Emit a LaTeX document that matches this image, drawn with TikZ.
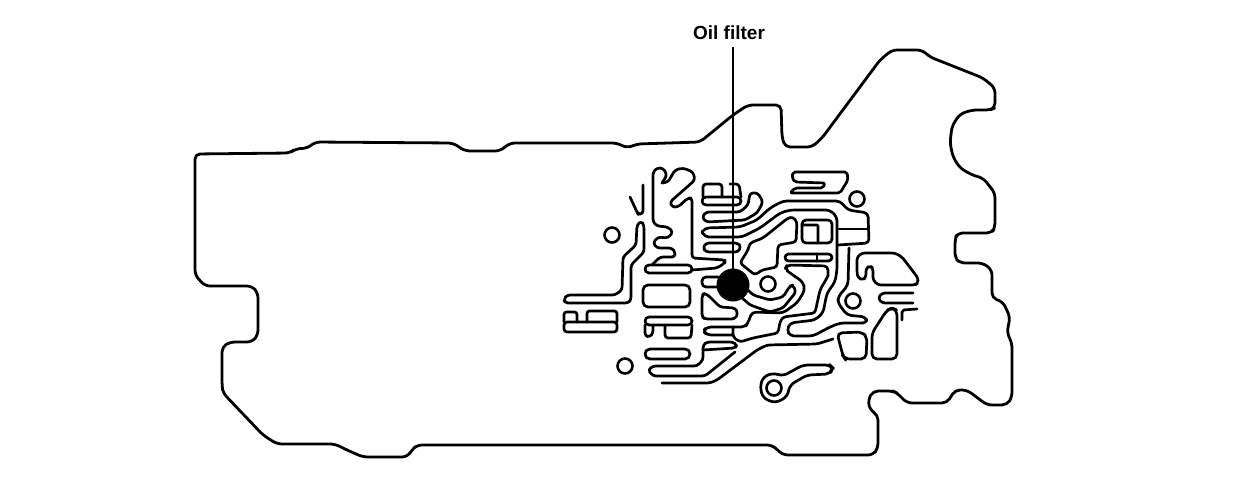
\documentclass[tikz,border=0pt]{standalone}
\usepackage{fontspec}
\setmainfont{Liberation Sans}
\tikzset{
 outl/.style={draw=black,line width=2.8pt,rounded corners=5pt,line join=round},
 chan/.style={draw=black,line width=2.7pt,rounded corners=3pt,line join=round,line cap=round},
 hole/.style={draw=black,line width=2.6pt,circle,minimum size=15pt,inner sep=0pt},
 filterdot/.style={fill=black,circle,minimum size=33pt,inner sep=0pt},
 lbl/.style={font=\bfseries\fontsize{19}{19}\selectfont,inner sep=0pt},
 leader/.style={draw=black,line width=1.5pt}
}
\begin{document}
\begin{tikzpicture}[x=1pt,y=-1pt]
\useasboundingbox (0,0) rectangle (1248,482);
% outline
\draw[outl] (195,154) -- (290,153) -- (295,149) -- (308,148) -- (315,142) -- (453,143) -- (465,151) -- (500,151) -- (510,143) -- (617,143) -- (627,148) -- (637,144) -- (700,142) -- (733,115) -- (748,105) -- (781,105) -- (782,137) -- (785,147) -- (812,147) -- (822,138) -- (880,60) -- (892,50) -- (922,50) -- (930,57) -- (983,78) -- (995,88) -- (995,108) -- (990,110) -- (972,110) -- (960,114) -- (952,126) -- (950,143) -- (953,157) -- (960,168) -- (972,175) -- (983,178) -- (995,193) -- (995,227) -- (992,233) -- (957,233) -- (955,240) -- (955,258) -- (960,263) -- (983,263) -- (992,270) -- (992,298) -- (1003,302) -- (1010,317) -- (1007,333) -- (1012,343) -- (1012,397) -- (1007,405) -- (987,405) -- (967,390) -- (955,390) -- (947,403) -- (907,403) -- (897,393) -- (893,391) -- (873,391) -- (868,400) -- (870,410) -- (878,415) -- (878,448) -- (873,455) -- (783,455) -- (772,445) -- (417,445) -- (412,450) -- (407,457) -- (363,457) -- (347,450) -- (335,444) -- (277,444) -- (263,435) -- (223,393) -- (222,385) -- (222,347) -- (230,342) -- (252,342) -- (258,335) -- (258,293) -- (252,286) -- (205,286) -- (195,275) -- cycle;
% left group
\draw[chan] (630,197) -- (637,212) -- (638,214) -- (643,214) -- (643,185);
\draw[chan] (641,221) -- (637,225) -- (636,245) -- (623,257) -- (622,290) -- (615,295) -- (567,295) -- (564,299) -- (565,303) -- (628,303) -- (631,300) -- (631,265) -- (644,252) -- (644,225) -- cycle;
\draw[chan] (662,183) -- (667,175) -- (663,168) -- (657,168) -- (653,172) -- (653,222) -- (657,226) -- (668,227) -- (673,232) -- (668,238) -- (658,237) -- (653,243) -- (657,248) -- (672,248) -- (675,252) -- (675,257) -- (660,257) -- (652,265);
\draw[chan] (662,183) -- (668,182) -- (675,170) -- (683,168) -- (693,172) -- (695,180) -- (670,202) -- (672,207) -- (678,207) -- (688,198) -- (692,198) -- (692,258) -- (725,260) -- (725,263) -- (717,268) -- (692,270);
\draw[chan,rounded corners=4pt] (645,265) -- (692,265) -- (692,273) -- (645,273) -- cycle;
\draw[chan,rounded corners=3pt] (564,322) -- (617,322) -- (617,332) -- (564,332) -- cycle;
\draw[chan,rounded corners=2.5pt] (564,322) -- (564,312) -- (577,312) -- (577,322);
\draw[chan,rounded corners=2.5pt] (587,322) -- (587,311) -- (617,311) -- (617,322);
\draw[chan,rounded corners=5pt] (643,285) -- (690,285) -- (690,307) -- (643,307) -- cycle;
\draw[chan,rounded corners=4pt] (645,317) -- (692,317) -- (692,325) -- (645,325) -- cycle;
\draw[chan,rounded corners=3pt] (645,325) -- (645,336) -- (650,337) -- (653,333) -- (653,326);
\draw[chan,rounded corners=3pt] (665,326) -- (665,338) -- (691,338) -- (692,325);
\draw[chan,rounded corners=5pt] (645,349) -- (690,349) -- (690,359) -- (645,359) -- cycle;
\draw[chan] (703,350) -- (735,348) -- (737,345) -- (733,342) -- (707,342) -- (703,345) -- (703,360) -- (697,366) -- (653,366) -- (648,370) -- (653,376) -- (705,376) -- (735,352);
\draw[chan] (662,383) -- (710,383) -- (717,380) -- (757,350) -- (767,345) -- (817,344) -- (833,339);
% pills and stack
\draw[chan] (703,197) -- (703,184) -- (722,184) -- (722,197);
\draw[chan] (730,184) -- (739,184) -- (741,197);
\draw[chan,rounded corners=4pt] (702,197) -- (741,197) -- (741,205) -- (702,205) -- cycle;
\draw[chan,rounded corners=3pt] (750,193) -- (748,205) -- (740,212) -- (706,212) -- (702,217) -- (706,222) -- (745,220) -- (757,213) -- (763,202) -- (758,193) -- cycle;
\draw[chan,rounded corners=4pt] (702,232) -- (705,228) -- (740,227) -- (757,220) -- (770,208) -- (783,201) -- (840,201) -- (848,210) -- (868,213) -- (869,243) -- (838,245);
\draw[chan,rounded corners=4pt] (702,232) -- (705,237) -- (742,237) -- (760,228) -- (780,213) -- (790,210) -- (830,210) -- (837,217) -- (837,270) -- (835,282) -- (827,293) -- (823,313) -- (815,320) -- (790,323) -- (787,330) -- (790,336) -- (813,336) -- (830,327) -- (840,323) -- (867,323) -- (866,317) -- (847,315) -- (838,303) -- (838,297) -- (848,285) -- (849,248);
\draw[chan] (837,229) -- (868,229);
\draw[chan] (703,248) -- (706,243) -- (738,243) -- (741,247) -- (738,252) -- (706,252) -- cycle;
% island above filter
\draw[chan] (740,263) -- (748,250) -- (750,243) -- (763,238) -- (788,218) -- (793,217) -- (797,222) -- (796,242) -- (778,245) -- (777,267) -- (762,270) -- (755,275) -- cycle;
\draw[chan,rounded corners=2pt] (793,172) -- (847,172) -- (848,180) -- (840,193) -- (790,193) -- (795,188) -- (823,188) -- (825,183) -- (795,182) -- (792,178) -- cycle;
\draw[chan,rounded corners=4pt] (802,220) -- (832,220) -- (832,243) -- (802,243) -- cycle;
\draw[chan,rounded corners=1pt] (802,225) -- (818,225) -- (818,243);
\draw[chan,rounded corners=3.5pt] (785,254) -- (832,254) -- (832,261) -- (785,261) -- cycle;
\draw[chan] (817,254) -- (817,261);
% arcs
\draw[chan,rounded corners=3pt] (745,287) -- (753,295) -- (770,300) -- (783,297) -- (790,286) -- (793,285) -- (796,292) -- (783,308) -- (770,312) -- (750,305) -- (741,297);
\draw[chan,rounded corners=4pt] (828,276) -- (828,266) -- (787,265) -- (785,269) -- (790,273) -- (803,282) -- (805,290) -- (797,303) -- (783,313) -- (752,312) -- (748,323) -- (745,327) -- (707,327) -- (703,331) -- (707,335) -- (733,335);
\draw[chan] (828,276) -- (820,290) -- (815,313) -- (783,317) -- (780,322) -- (778,333) -- (753,338) -- (740,342) -- (733,337) -- (733,327);
% left of filter
\draw[chan,rounded corners=4pt] (718,277) -- (702,277) -- (702,287) -- (718,287);
\draw[chan] (702,295) -- (705,293) -- (710,297) -- (720,307) -- (735,308) -- (738,313) -- (735,319) -- (705,319) -- (702,317) -- cycle;
% right group
\draw[chan] (857,257) -- (862,253) -- (895,253) -- (902,257) -- (918,278) -- (918,283) -- (915,285) -- (878,285) -- (873,280) -- (873,268) -- (870,266) -- (866,268) -- (866,277) -- (863,280) -- (858,278) -- (857,273) -- cycle;
\draw[chan,rounded corners=3pt] (913,293) -- (882,293) -- (878,298) -- (882,303) -- (913,303);
\draw[chan,rounded corners=2pt] (902,320) -- (902,310) -- (917,309);
\draw[chan,rounded corners=5pt] (837,333) -- (862,332) -- (867,337) -- (866,359) -- (845,359) -- (843,356) -- cycle;
\draw[chan,rounded corners=5pt] (872,333) -- (887,310) -- (892,308) -- (897,310) -- (897,359) -- (872,359) -- cycle;
\draw[chan,rounded corners=5pt] (760,387) -- (763,377) -- (773,373) -- (783,376) -- (803,365) -- (830,365) -- (833,368) -- (830,374) -- (807,375) -- (790,385) -- (787,397) -- (775,403) -- (763,398) -- cycle;
% holes
\node[hole] (h1) at (612,235) {};
\node[hole] (h2) at (857,199) {};
\node[hole] (h3) at (768,284) {};
\node[hole] (h4) at (853,301) {};
\node[hole] (h5) at (625,366) {};
\node[hole] (h6) at (774,388) {};
% filter and label
\node[filterdot] (filter) at (733,285) {};
\node[lbl] (label) at (729,33) {Oil filter};
\coordinate (leadtop) at (733,47);
\draw[leader] (leadtop) -- (filter.center);
\end{tikzpicture}
\end{document}
